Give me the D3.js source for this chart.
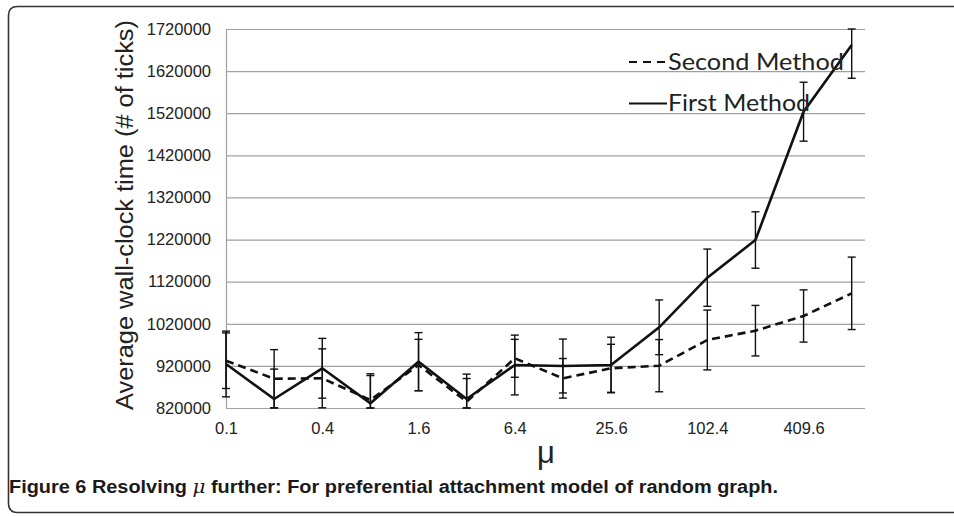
<!DOCTYPE html>
<html>
<head>
<meta charset="utf-8">
<script src="https://cdn.jsdelivr.net/npm/d3@7"></script>
<style>
  html, body { margin: 0; padding: 0; background: #fff; overflow: hidden; }
  svg { display: block; }
</style>
</head>
<body>
<svg id="chart" width="954" height="516"></svg>
<script>
const categories = ["0.1","0.2","0.4","0.8","1.6","3.2","6.4","12.8","25.6","51.2","102.4","204.8","409.6","819.2"];
const tickLabels = ["0.1","0.4","1.6","6.4","25.6","102.4","409.6"];
const yTicks = [820000, 920000, 1020000, 1120000, 1220000, 1320000, 1420000, 1520000, 1620000, 1720000];
const firstMethod = [924500, 841400, 914300, 831200, 930000, 841400, 922100, 919700, 922100, 1011600, 1129400, 1218900, 1523600, 1682000];
const firstErr    = [78000, 71000, 71000, 70000, 69000, 59000, 71000, 64000, 66000, 65000, 68000, 67000, 70000, 79000];
const secondMethod = [932300, 889600, 890500, 839000, 922100, 835000, 938000, 890500, 914300, 920500, 981500, 1003600, 1038500, 1092300];
const secondErr    = [66000, 69000, 70000, 58000, 61000, 55000, 45000, 47000, 57000, 62000, 71000, 60000, 62000, 86000];

const svg = d3.select("#chart");

// border (left, top and bottom edges; right side runs off the picture)
svg.append("path")
  .attr("d", "M 970 6.5 L 17.5 6.5 Q 8.5 6.5 8.5 15.5 L 8.5 503.5 Q 8.5 512.5 17.5 512.5 L 970 512.5")
  .attr("fill", "none").attr("stroke", "#333").attr("stroke-width", 1.6);

const x = d3.scalePoint().domain(categories).range([226, 851.7]).padding(0);
const y = d3.scaleLinear().domain([820000, 1720000]).range([408, 29]);
const plotRight = 865;

// gridlines
const yAxis = d3.axisLeft(y).tickValues(yTicks).tickSize(-(plotRight - 226)).tickFormat(d3.format("d")).tickPadding(15);
const gy = svg.append("g").attr("transform", "translate(226,0)").call(yAxis);
gy.select(".domain").attr("stroke", "#a0a0a0").attr("stroke-width", 1.2);
gy.selectAll(".tick line").attr("stroke", "#a0a0a0").attr("stroke-width", 1.2);
gy.selectAll(".tick text")
  .attr("font-family", "'Liberation Sans', Arial, sans-serif")
  .attr("font-size", 16.5).attr("fill", "#222");

// x axis labels
const xAxis = d3.axisBottom(x).tickValues(tickLabels).tickSize(0).tickPadding(14);
const gx = svg.append("g").attr("transform", "translate(0,408)").call(xAxis);
gx.select(".domain").remove();
gx.selectAll(".tick text")
  .attr("font-family", "'Liberation Sans', Arial, sans-serif")
  .attr("font-size", 16.5).attr("fill", "#222");

// error bars
function errorBars(vals, errs) {
  const g = svg.append("g").attr("stroke", "#111").attr("stroke-width", 1.4).attr("fill", "none");
  vals.forEach((v, i) => {
    const cx = x(categories[i]);
    const lo = Math.max(v - errs[i], 820000), hi = Math.min(v + errs[i], 1720000);
    g.append("line").attr("x1", cx).attr("x2", cx).attr("y1", y(lo)).attr("y2", y(hi));
    g.append("line").attr("x1", cx - 4).attr("x2", cx + 4).attr("y1", y(lo)).attr("y2", y(lo));
    g.append("line").attr("x1", cx - 4).attr("x2", cx + 4).attr("y1", y(hi)).attr("y2", y(hi));
  });
}
errorBars(secondMethod, secondErr);
errorBars(firstMethod, firstErr);

const line = d3.line().x((d, i) => x(categories[i])).y(d => y(d));
svg.append("path").datum(secondMethod).attr("d", line)
  .attr("fill", "none").attr("stroke", "#111").attr("stroke-width", 2.6).attr("stroke-dasharray", "8,5");
svg.append("path").datum(firstMethod).attr("d", line)
  .attr("fill", "none").attr("stroke", "#111").attr("stroke-width", 2.6);

// legend
const lg = svg.append("g");
lg.append("line").attr("x1", 629).attr("x2", 667).attr("y1", 62).attr("y2", 62)
  .attr("stroke", "#111").attr("stroke-width", 2).attr("stroke-dasharray", "8,6");
lg.append("line").attr("x1", 629).attr("x2", 667).attr("y1", 103.5).attr("y2", 103.5)
  .attr("stroke", "#111").attr("stroke-width", 2.2);
lg.append("text").attr("x", 668).attr("y", 70).text("Second Method")
  .attr("font-family", "Lato, 'Open Sans', sans-serif").attr("font-size", 24)
  .attr("textLength", 176).attr("lengthAdjust", "spacingAndGlyphs").attr("fill", "#222");
lg.append("text").attr("x", 668).attr("y", 111).text("First Method")
  .attr("font-family", "Lato, 'Open Sans', sans-serif").attr("font-size", 24)
  .attr("textLength", 142).attr("lengthAdjust", "spacingAndGlyphs").attr("fill", "#222");

// y title
svg.append("text")
  .attr("transform", "translate(133,215) rotate(-90)")
  .attr("text-anchor", "middle")
  .attr("font-family", "'Liberation Sans', Arial, sans-serif")
  .attr("font-size", 23).attr("fill", "#222")
  .attr("textLength", 390).attr("lengthAdjust", "spacingAndGlyphs")
  .text("Average wall-clock time (# of ticks)");

// x title
svg.append("text").attr("x", 546).attr("y", 463).attr("text-anchor", "middle")
  .attr("font-family", "'Liberation Sans', Arial, sans-serif").attr("font-size", 31).attr("fill", "#222")
  .text("μ");

// caption
const cap = svg.append("text").attr("x", 9).attr("y", 493)
  .attr("font-family", "'Liberation Sans Narrow', 'Liberation Sans', Arial, sans-serif")
  .attr("font-weight", "bold").attr("font-size", 18).attr("fill", "#1a1a1a")
  .attr("textLength", 769).attr("lengthAdjust", "spacingAndGlyphs");
cap.append("tspan").text("Figure 6 Resolving ");
cap.append("tspan").attr("font-family", "'DejaVu Serif', serif").attr("font-style", "italic").attr("font-weight", "normal").text("μ");
cap.append("tspan").text(" further: For preferential attachment model of random graph.");
</script>
</body>
</html>
